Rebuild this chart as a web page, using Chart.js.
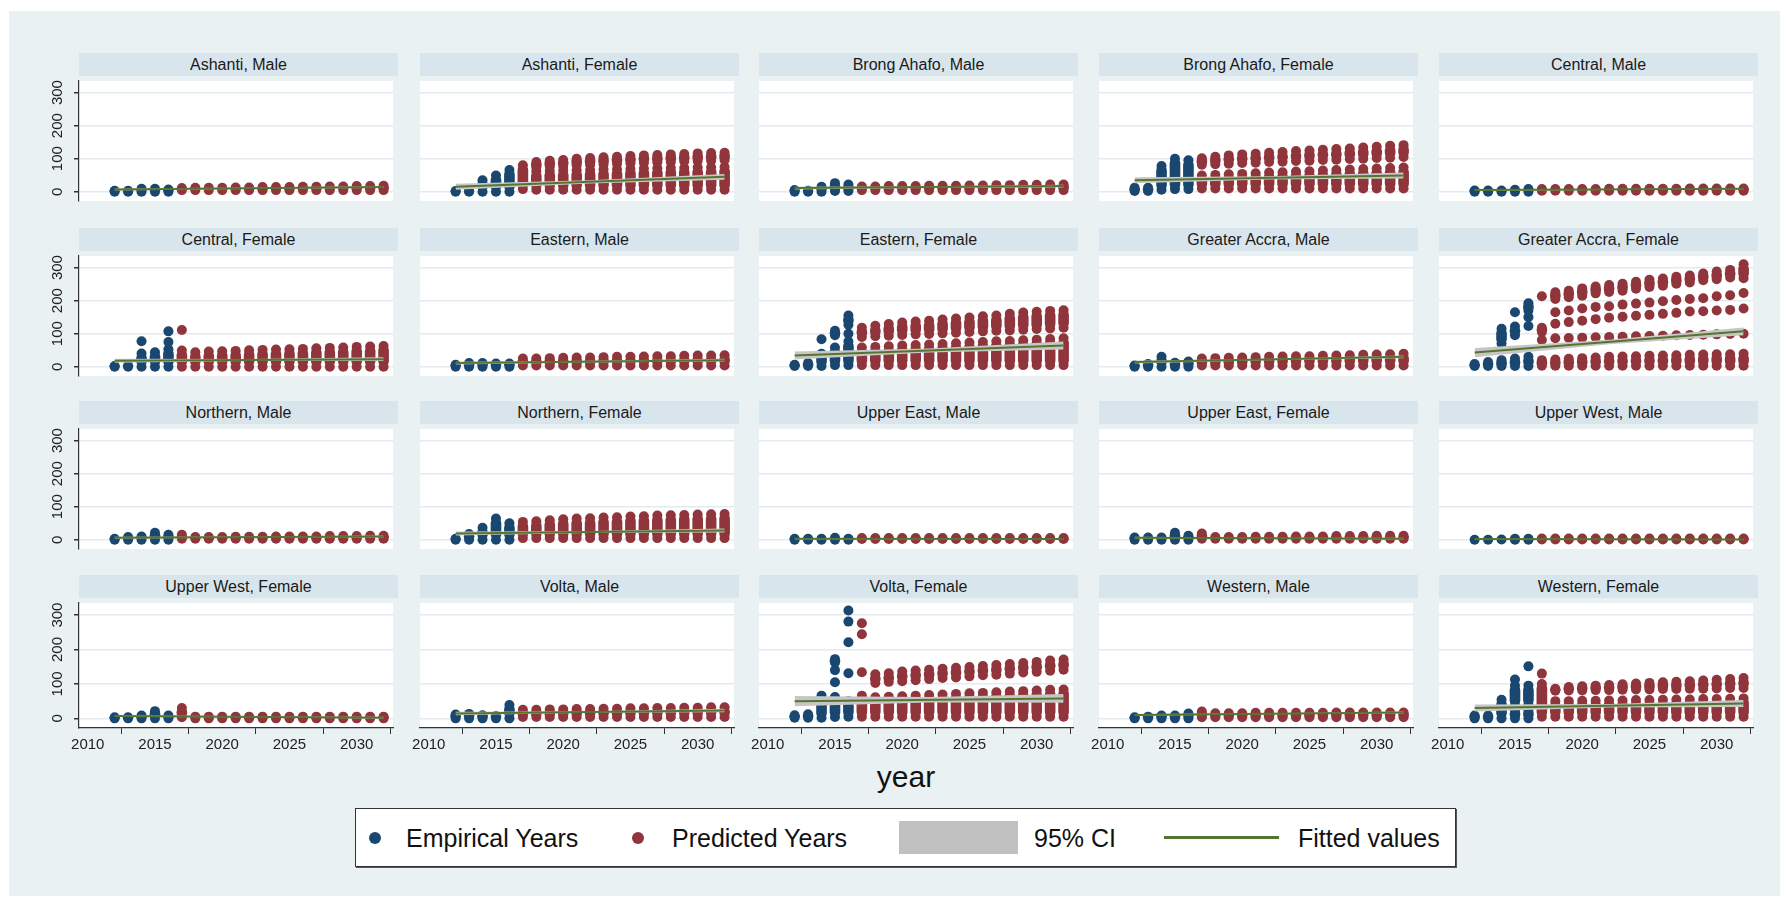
<!DOCTYPE html>
<html>
<head>
<meta charset="utf-8">
<script src="https://cdn.jsdelivr.net/npm/chart.js@4.4.1/dist/chart.umd.min.js"></script>
<style>
  body { margin: 0; width: 1788px; height: 902px; overflow: hidden; background: #fff;
         font-family: "Liberation Sans", Arial, sans-serif; position: relative; }
  #frame { position: absolute; left: 9px; top: 11px; width: 1771px; height: 885px; background: #e9f1f3; }
  .strip { position: absolute; height: 23px; line-height: 23px; background: #d9e5ec; color: #1a1a1a;
           font-size: 16px; text-align: center; white-space: nowrap; }
  canvas { position: absolute; }
  #xtitle { position: absolute; left: 806px; width: 200px; top: 760px; text-align: center;
            font-size: 30px; color: #111; }
  #legend { position: absolute; left: 355px; top: 808px; width: 1099px; height: 57px; background: #fff;
            border: 1.5px solid #333; box-shadow: 1px 1px 0 #555; }
  #legend span { position: absolute; }
  #legend .txt { top: 14px; font-size: 25px; line-height: 30px; color: #111; white-space: nowrap; }
  #legend .dot { width: 12px; height: 12px; border-radius: 50%; top: 23px; }
</style>
</head>
<body>
<div id="frame"></div>
<div id="xtitle">year</div>
<div id="legend">
  <span class="dot" style="left:13px;background:#1a476f"></span>
  <span class="txt" style="left:50px">Empirical Years</span>
  <span class="dot" style="left:276px;background:#90353b"></span>
  <span class="txt" style="left:316px">Predicted Years</span>
  <span style="left:543px;top:12px;width:119px;height:33px;background:#c0c0c0"></span>
  <span class="txt" style="left:678px">95% CI</span>
  <span style="left:808px;top:27px;width:115px;height:3px;background:#55752f"></span>
  <span class="txt" style="left:942px">Fitted values</span>
</div>
<script>
// Years on the horizontal axis
const empYears = [2012, 2013, 2014, 2015, 2016];
const predYears = [2017, 2018, 2019, 2020, 2021, 2022, 2023, 2024, 2025, 2026, 2027, 2028, 2029, 2030, 2031, 2032];
const xTicks = [2010, 2015, 2020, 2025, 2030];
const yTicks = [0, 100, 200, 300];

const panelTitles = [
  'Ashanti, Male', 'Ashanti, Female', 'Brong Ahafo, Male', 'Brong Ahafo, Female', 'Central, Male',
  'Central, Female', 'Eastern, Male', 'Eastern, Female', 'Greater Accra, Male', 'Greater Accra, Female',
  'Northern, Male', 'Northern, Female', 'Upper East, Male', 'Upper East, Female', 'Upper West, Male',
  'Upper West, Female', 'Volta, Male', 'Volta, Female', 'Western, Male', 'Western, Female'
];

// Per year: runs of stacked district values [low, high]; a single value is [v, v]
const empAshantiM = [[[0,3]], [[0,3]], [[0,9]], [[0,9]], [[0,7]]];
const predAshantiM = [[[5,11]], [[5,12]], [[5,12]], [[5,12]], [[5,13]], [[5,13]], [[5,14]], [[5,14]], [[5,14]], [[5,15]], [[5,15]], [[5,16]], [[5,16]], [[5,17]], [[5,17]], [[5,18]]];

const empAshantiF = [[[0,2]], [[0,2]], [[0,35]], [[0,49]], [[0,66]]];
const predAshantiF = [[[8,80]], [[6,62],[74,90]], [[6,63],[76,94]], [[6,64],[78,96]], [[6,65],[80,100]], [[6,66],[82,102]], [[6,67],[83,104]], [[6,68],[85,106]], [[6,69],[86,108]], [[6,70],[88,110]], [[6,71],[89,111]], [[6,72],[90,113]], [[6,72],[92,114]], [[6,73],[93,116]], [[6,74],[94,117]], [[6,75],[96,118]]];

const empBrongM = [[[0,5]], [[0,3]], [[0,15]], [[2,26]], [[2,22]]];
const predBrongM = [[[5,16]], [[5,16]], [[5,17]], [[5,17]], [[5,17]], [[5,18]], [[5,18]], [[5,18]], [[5,19]], [[5,19]], [[5,20]], [[5,20]], [[5,21]], [[5,21]], [[5,22]], [[5,22]]];

const empBrongF = [[[2,12]], [[2,12]], [[6,78]], [[8,100]], [[8,95]]];
const predBrongF = [[[10,49],[82,101]], [[10,51],[83,106]], [[10,53],[85,110]], [[10,54],[87,113]], [[10,56],[88,115]], [[10,58],[90,118]], [[10,59],[91,120]], [[10,61],[93,123]], [[10,62],[94,125]], [[10,64],[96,127]], [[10,66],[97,129]], [[10,67],[99,131]], [[10,69],[100,134]], [[10,70],[102,136]], [[10,72],[103,139]], [[10,73],[105,141]]];

const empCentralM = [[[0,4]], [[0,4]], [[0,4]], [[0,6]], [[0,8]]];
const predCentralM = [[[3,8]], [[3,8]], [[3,8]], [[3,8]], [[3,8]], [[3,9]], [[3,9]], [[3,9]], [[3,9]], [[3,9]], [[3,9]], [[3,10]], [[3,10]], [[3,10]], [[3,10]], [[3,10]]];

const empCentralF = [[[0,2]], [[0,3]], [[0,40],[77,77]], [[0,44]], [[0,53],[75,75],[107,107]]];
const predCentralF = [[[0,49],[111,111]], [[0,44]], [[0,46]], [[0,47]], [[0,48]], [[0,50]], [[0,51]], [[0,52]], [[0,53]], [[0,54]], [[0,56]], [[0,57]], [[0,58]], [[0,60]], [[0,61]], [[0,63]]];

const empEasternM = [[[0,6]], [[0,11]], [[0,11]], [[0,10]], [[0,10]]];
const predEasternM = [[[4,25]], [[4,25]], [[4,26]], [[4,27]], [[4,28]], [[4,28]], [[4,29]], [[4,30]], [[4,30]], [[4,31]], [[4,32]], [[4,32]], [[4,33]], [[4,34]], [[4,34]], [[4,35]]];

const empEasternF = [[[2,6]], [[2,11]], [[2,39],[83,83]], [[5,58],[95,109]], [[5,76],[100,100],[127,155]]];
const predEasternF = [[[5,58],[90,118]], [[5,60],[92,124]], [[5,62],[94,129]], [[5,64],[96,134]], [[5,66],[98,137]], [[5,67],[99,139]], [[5,69],[101,143]], [[5,71],[103,146]], [[5,73],[105,149]], [[5,75],[107,153]], [[5,77],[109,155]], [[5,78],[110,160]], [[5,80],[112,164]], [[5,82],[114,166]], [[5,84],[116,169]], [[5,86],[118,171]]];

const empAccraM = [[[0,4]], [[0,8]], [[0,30]], [[0,12]], [[0,16]]];
const predAccraM = [[[4,25]], [[4,26]], [[4,27]], [[4,28]], [[4,29]], [[4,30]], [[4,31]], [[4,32]], [[4,32]], [[4,33]], [[4,34]], [[4,35]], [[4,36]], [[4,37]], [[4,38]], [[4,39]]];

const empAccraF = [[[2,8]], [[2,14]], [[2,20],[70,115]], [[2,25],[95,122],[165,165]], [[2,30],[123,123],[150,150],[170,192]]];
const predAccraF = [
  [[3,20],[81,81],[105,118],[213,213]],
  [[3,22],[86,86],[130,130],[165,165],[205,225]],
  [[3,24],[87,87],[135,135],[170,170],[210,230]],
  [[3,26],[88,88],[139,139],[176,176],[215,237]],
  [[3,28],[89,89],[144,144],[181,181],[222,243]],
  [[3,30],[90,90],[148,148],[183,183],[226,247]],
  [[3,31],[91,91],[151,151],[188,188],[230,251]],
  [[3,32],[92,92],[154,154],[191,191],[236,257]],
  [[3,33],[93,93],[157,157],[194,194],[241,263]],
  [[3,34],[94,94],[160,160],[198,198],[245,267]],
  [[3,35],[95,95],[163,163],[202,202],[251,272]],
  [[3,36],[96,96],[167,167],[205,205],[255,276]],
  [[3,37],[97,97],[168,168],[207,207],[262,282]],
  [[3,38],[98,98],[170,170],[213,213],[265,288]],
  [[3,38],[99,99],[172,172],[216,216],[270,293]],
  [[3,39],[100,100],[176,176],[223,223],[268,310]]
];

const empNorthernM = [[[0,3]], [[0,8]], [[0,10]], [[0,21]], [[0,15]]];
const predNorthernM = [[[3,15]], [[3,8]], [[3,8]], [[3,8]], [[3,9]], [[3,9]], [[3,9]], [[3,10]], [[3,10]], [[3,10]], [[3,10]], [[3,11]], [[3,11]], [[3,11]], [[3,12]], [[3,12]]];

const empNorthernF = [[[0,3]], [[0,17]], [[0,36]], [[0,64]], [[0,50]]];
const predNorthernF = [[[5,54]], [[5,56]], [[5,59]], [[5,62]], [[5,64]], [[5,65]], [[5,67]], [[5,68]], [[5,70]], [[5,71]], [[5,73]], [[5,74]], [[5,75]], [[5,76]], [[5,77]], [[5,78]]];

const empUpperEastM = [[[0,3]], [[0,3]], [[0,3]], [[0,6]], [[0,3]]];
const predUpperEastM = [[[2,5]], [[2,5]], [[2,5]], [[2,5]], [[2,5]], [[2,5]], [[2,5]], [[2,5]], [[2,5]], [[2,5]], [[2,5]], [[2,5]], [[2,5]], [[2,5]], [[2,5]], [[2,5]]];

const empUpperEastF = [[[0,7]], [[0,7]], [[0,7]], [[0,21]], [[0,12]]];
const predUpperEastF = [[[3,19]], [[3,8]], [[3,8]], [[3,8]], [[3,9]], [[3,9]], [[3,9]], [[3,10]], [[3,10]], [[3,10]], [[3,11]], [[3,11]], [[3,11]], [[3,12]], [[3,12]], [[3,12]]];

const empUpperWestM = [[[0,0]], [[0,0]], [[1,1]], [[0,3]], [[0,3]]];
const predUpperWestM = [[[1,4]], [[1,4]], [[1,4]], [[1,4]], [[1,4]], [[1,4]], [[1,4]], [[1,4]], [[1,4]], [[1,4]], [[1,4]], [[1,4]], [[1,4]], [[1,4]], [[1,4]], [[1,4]]];

const empUpperWestF = [[[0,3]], [[0,3]], [[0,8]], [[0,21]], [[0,8]]];
const predUpperWestF = [[[3,30]], [[0,5]], [[0,5]], [[0,5]], [[0,5]], [[0,5]], [[0,5]], [[0,5]], [[0,5]], [[0,5]], [[0,5]], [[0,5]], [[0,5]], [[0,5]], [[0,5]], [[0,5]]];

const empVoltaM = [[[0,11]], [[0,13]], [[0,9]], [[0,7]], [[0,39]]];
const predVoltaM = [[[4,25]], [[4,25]], [[4,26]], [[4,26]], [[4,27]], [[4,27]], [[4,28]], [[4,28]], [[4,29]], [[4,29]], [[4,30]], [[4,30]], [[4,31]], [[4,31]], [[4,32]], [[4,32]]];

const empVoltaF = [[[2,9]], [[2,12]], [[2,66]], [[4,62],[105,105],[140,140],[162,172]], [[5,50],[131,131],[221,221],[281,281],[313,313]]];
const predVoltaF = [[[5,66],[134,134],[244,244],[276,276]], [[5,61],[103,128]], [[5,63],[106,131]], [[5,64],[108,136]], [[5,66],[111,139]], [[5,68],[114,141]], [[5,69],[117,144]], [[5,71],[119,147]], [[5,73],[122,149]], [[5,74],[125,152]], [[5,76],[127,155]], [[5,78],[130,158]], [[5,79],[133,161]], [[5,81],[135,164]], [[5,83],[138,168]], [[5,84],[141,171]]];

const empWesternM = [[[0,3]], [[0,5]], [[0,8]], [[0,8]], [[0,14]]];
const predWesternM = [[[3,20]], [[3,15]], [[3,15]], [[3,15]], [[3,16]], [[3,16]], [[3,16]], [[3,16]], [[3,16]], [[3,16]], [[3,17]], [[3,17]], [[3,17]], [[3,17]], [[3,17]], [[3,17]]];

const empWesternF = [[[0,8]], [[0,8]], [[0,54]], [[0,22],[38,95],[113,113]], [[0,22],[40,95],[151,151]]];
const predWesternF = [[[5,100],[130,130]], [[5,50],[80,86]], [[5,50],[81,91]], [[5,51],[81,93]], [[5,51],[82,95]], [[5,52],[82,97]], [[5,52],[83,99]], [[5,53],[84,101]], [[5,53],[84,103]], [[5,54],[85,105]], [[5,55],[85,106]], [[5,55],[86,108]], [[5,56],[86,110]], [[5,56],[87,112]], [[5,57],[88,114]], [[5,58],[88,117]]];

const empirical = [empAshantiM, empAshantiF, empBrongM, empBrongF, empCentralM,
  empCentralF, empEasternM, empEasternF, empAccraM, empAccraF,
  empNorthernM, empNorthernF, empUpperEastM, empUpperEastF, empUpperWestM,
  empUpperWestF, empVoltaM, empVoltaF, empWesternM, empWesternF];
const predicted = [predAshantiM, predAshantiF, predBrongM, predBrongF, predCentralM,
  predCentralF, predEasternM, predEasternF, predAccraM, predAccraF,
  predNorthernM, predNorthernF, predUpperEastM, predUpperEastF, predUpperWestM,
  predUpperWestF, predVoltaM, predVoltaF, predWesternM, predWesternF];

// Linear fit at 2012 and 2032, and half-width of its 95% band at 2012 / 2022 / 2032
const fitStart = [7, 15, 11, 35, 5, 18, 11, 34, 14, 43, 6, 19, 3, 6, 2, 7, 14, 50, 10, 30];
const fitEnd = [14, 45, 17, 49, 9, 23, 20, 64, 30, 107, 10, 28, 2, 3, 1, 2, 23, 58, 17, 43];
const ciStart = [3, 9, 4, 9, 2.5, 6, 4, 12, 4, 14, 3, 6, 2, 3, 1.5, 3, 5, 15, 3, 10];
const ciMid = [2, 5, 2.5, 5, 1.5, 3, 2.5, 6, 2.5, 7, 1.5, 3, 1, 1.5, 1, 1.5, 2.5, 8, 1.5, 5];
const ciEnd = [3, 9, 4, 9, 2.5, 6, 4, 12, 4, 12, 3, 6, 2, 3, 1.5, 3, 5, 13, 3, 10];

const BLUE = '#1a476f';
const RED = '#90353b';
const GREEN = '#55752f';
const CI_GRAY = '#c6c6c6';

const colLeft = [79, 420, 759, 1099, 1439];
const stripTop = [53, 228, 401, 575];
const PLOT_W = 319, PLOT_H = 130, STRIP_H = 23, Y_W = 40, X_H = 40;

Chart.defaults.font.family = '"Liberation Sans", Arial, sans-serif';

const plotBackground = {
  id: 'plotBackground',
  beforeDraw(chart) {
    const { ctx, chartArea: a } = chart;
    ctx.save();
    ctx.fillStyle = '#fff';
    ctx.fillRect(a.left, a.top, a.right - a.left, a.bottom - a.top);
    ctx.restore();
  }
};

// vertical tick labels on the left column
const rotatedYLabels = {
  id: 'rotatedYLabels',
  afterDraw(chart, args, opts) {
    if (!opts.show) return;
    const { ctx, chartArea } = chart;
    const scale = chart.scales.y;
    ctx.save();
    ctx.font = '15px "Liberation Sans", Arial, sans-serif';
    ctx.fillStyle = '#222';
    ctx.textAlign = 'center';
    ctx.textBaseline = 'middle';
    yTicks.forEach(v => {
      ctx.save();
      ctx.translate(chartArea.left - 21, scale.getPixelForValue(v));
      ctx.rotate(-Math.PI / 2);
      ctx.fillText(String(v), 0, 0);
      ctx.restore();
    });
    ctx.restore();
  }
};

function runsToBars(years, runs) {
  const out = [];
  runs.forEach((list, i) => list.forEach(([lo, hi]) => {
    if (hi > lo) out.push({ x: years[i], y: [lo, hi] });
  }));
  return out;
}

function runsToDots(years, runs) {
  const out = [];
  runs.forEach((list, i) => list.forEach(([lo, hi]) => {
    out.push({ x: years[i], y: lo });
    if (hi !== lo) out.push({ x: years[i], y: hi });
  }));
  return out;
}

function barSet(data, color) {
  return { type: 'bar', data, backgroundColor: color, barThickness: 10, borderRadius: 5,
           borderSkipped: false, grouped: false, order: 4 };
}

function dotSet(data, color) {
  return { type: 'scatter', data, backgroundColor: color, borderWidth: 0, pointRadius: 5, order: 3 };
}

panelTitles.forEach((title, i) => {
  const row = Math.floor(i / 5);
  const col = i % 5;
  const left = colLeft[col];
  const top = stripTop[row];
  const bottomRow = row === 3;
  const firstCol = col === 0;

  const strip = document.createElement('div');
  strip.className = 'strip';
  strip.style.left = left + 'px';
  strip.style.top = top + 'px';
  strip.style.width = PLOT_W + 'px';
  strip.textContent = title;
  document.body.appendChild(strip);

  const canvas = document.createElement('canvas');
  canvas.width = Y_W + PLOT_W;
  canvas.height = PLOT_H + (bottomRow ? X_H : 0);
  canvas.style.left = (left - Y_W) + 'px';
  canvas.style.top = (top + STRIP_H) + 'px';
  document.body.appendChild(canvas);

  const mid = (fitStart[i] + fitEnd[i]) / 2;
  const fitLine = [{ x: 2012, y: fitStart[i] }, { x: 2032, y: fitEnd[i] }];
  const ciLow = [{ x: 2012, y: fitStart[i] - ciStart[i] }, { x: 2022, y: mid - ciMid[i] }, { x: 2032, y: fitEnd[i] - ciEnd[i] }];
  const ciHigh = [{ x: 2012, y: fitStart[i] + ciStart[i] }, { x: 2022, y: mid + ciMid[i] }, { x: 2032, y: fitEnd[i] + ciEnd[i] }];

  const xScale = {
    type: 'linear',
    offset: false,
    min: 2009.35,
    max: 2032.7,
    display: bottomRow,
    afterBuildTicks: s => { s.ticks = xTicks.map(v => ({ value: v })); },
    grid: { drawOnChartArea: false, drawTicks: true, tickLength: 6, tickColor: '#333' },
    border: { display: true, color: '#333', width: 1.2 },
    ticks: { font: { size: 15 }, color: '#222', padding: 2, maxRotation: 0, callback: v => String(v) }
  };
  if (bottomRow) xScale.afterFit = s => { s.height = X_H; };

  new Chart(canvas, {
    type: 'bar',
    data: {
      datasets: [
        barSet(runsToBars(empYears, empirical[i]), BLUE),
        barSet(runsToBars(predYears, predicted[i]), RED),
        dotSet(runsToDots(empYears, empirical[i]), BLUE),
        dotSet(runsToDots(predYears, predicted[i]), RED),
        { type: 'line', data: ciLow, borderWidth: 0, pointRadius: 0, fill: false, order: 2 },
        { type: 'line', data: ciHigh, borderWidth: 0, pointRadius: 0, fill: '-1', backgroundColor: CI_GRAY, order: 2 },
        { type: 'line', data: fitLine, borderColor: GREEN, borderWidth: 2, pointRadius: 0, fill: false, order: 1 }
      ]
    },
    options: {
      responsive: false,
      maintainAspectRatio: false,
      animation: false,
      events: [],
      layout: { padding: 0 },
      plugins: {
        legend: { display: false },
        tooltip: { enabled: false },
        rotatedYLabels: { show: firstCol }
      },
      scales: {
        x: xScale,
        y: {
          type: 'linear',
          min: -28,
          max: 335,
          afterBuildTicks: s => { s.ticks = yTicks.map(v => ({ value: v })); },
          afterFit: s => { s.width = Y_W; },
          grid: { color: '#e3ebef', lineWidth: 1.5, drawTicks: firstCol, tickLength: 5, tickColor: '#333' },
          border: { display: firstCol, color: '#333', width: 1.2 },
          ticks: { display: false }
        }
      }
    },
    plugins: [plotBackground, rotatedYLabels]
  });
});
</script>
</body>
</html>
